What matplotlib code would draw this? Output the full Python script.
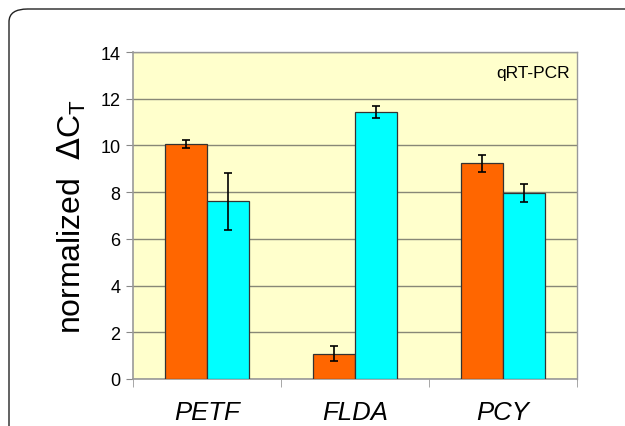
import matplotlib
matplotlib.use("Agg")
import matplotlib.pyplot as plt
import numpy as np
from matplotlib.patches import FancyBboxPatch

plt.rcParams['font.family'] = ['Liberation Sans', 'DejaVu Sans']

genes = ["PETF", "FLDA", "PCY"]
series_orange = [10.08, 1.08, 9.23]
err_orange = [0.17, 0.32, 0.35]
series_cyan = [7.6, 11.42, 7.95]
err_cyan = [1.21, 0.25, 0.38]
yticks = [0, 2, 4, 6, 8, 10, 12, 14]

fig = plt.figure(figsize=(6.25, 4.27), dpi=100)

frame = FancyBboxPatch((9/625, -0.2), 1.2, (427-10)/427 + 0.2,
                       boxstyle="round,pad=0,rounding_size=0.03",
                       transform=fig.transFigure, facecolor="white",
                       edgecolor="#222222", linewidth=1.0, zorder=-5)
fig.patches.append(frame)

ax = fig.add_axes([133/625, (427-380)/427, (577-133)/625, (380-53)/427])
ax.set_zorder(2)
ax.set_facecolor("#FFFFCC")

x = np.arange(len(genes))
w = 0.285
ax.bar(x - w/2, series_orange, w, color="#FF6600", edgecolor="#333333", linewidth=0.9, zorder=3)
ax.bar(x + w/2, series_cyan, w, color="#00FFFF", edgecolor="#333333", linewidth=0.9, zorder=3)
ax.errorbar(x - w/2, series_orange, yerr=err_orange, fmt="none", ecolor="black",
            elinewidth=1.2, capsize=3, capthick=1.2, zorder=4)
ax.errorbar(x + w/2, series_cyan, yerr=err_cyan, fmt="none", ecolor="black",
            elinewidth=1.2, capsize=3, capthick=1.2, zorder=4)

ax.set_xlim(-0.5, len(genes) - 0.5)
ax.set_ylim(0, 14)
ax.set_yticks(yticks)
ax.set_yticklabels([str(t) for t in yticks], fontsize=13)
ax.yaxis.grid(True, color="#888877", linewidth=1.0, zorder=1)
ax.set_axisbelow(True)

ax.set_xticks(x)
ax.set_xticklabels(genes, fontsize=18.5, style="italic")
ax.tick_params(axis="x", length=0, pad=15)
ax.set_xticks(np.arange(len(genes) + 1) - 0.5, minor=True)
ax.tick_params(axis="x", which="minor", length=6, color="#999999", direction="out")
ax.tick_params(axis="y", length=5, color="#888888", direction="out", pad=4)

for s in ["left", "bottom"]:
    ax.spines[s].set_color("#999999")
    ax.spines[s].set_linewidth(1.2)
for s in ["top", "right"]:
    ax.spines[s].set_color("#999999")
    ax.spines[s].set_linewidth(1.0)

ax.set_ylabel(r"normalized  $\Delta$C$_\mathregular{T}$", fontsize=23, labelpad=9)
ax.text(0.985, 0.96, "qRT-PCR", transform=ax.transAxes, ha="right", va="top", fontsize=12.5)

fig.savefig("out.png", dpi=100)
